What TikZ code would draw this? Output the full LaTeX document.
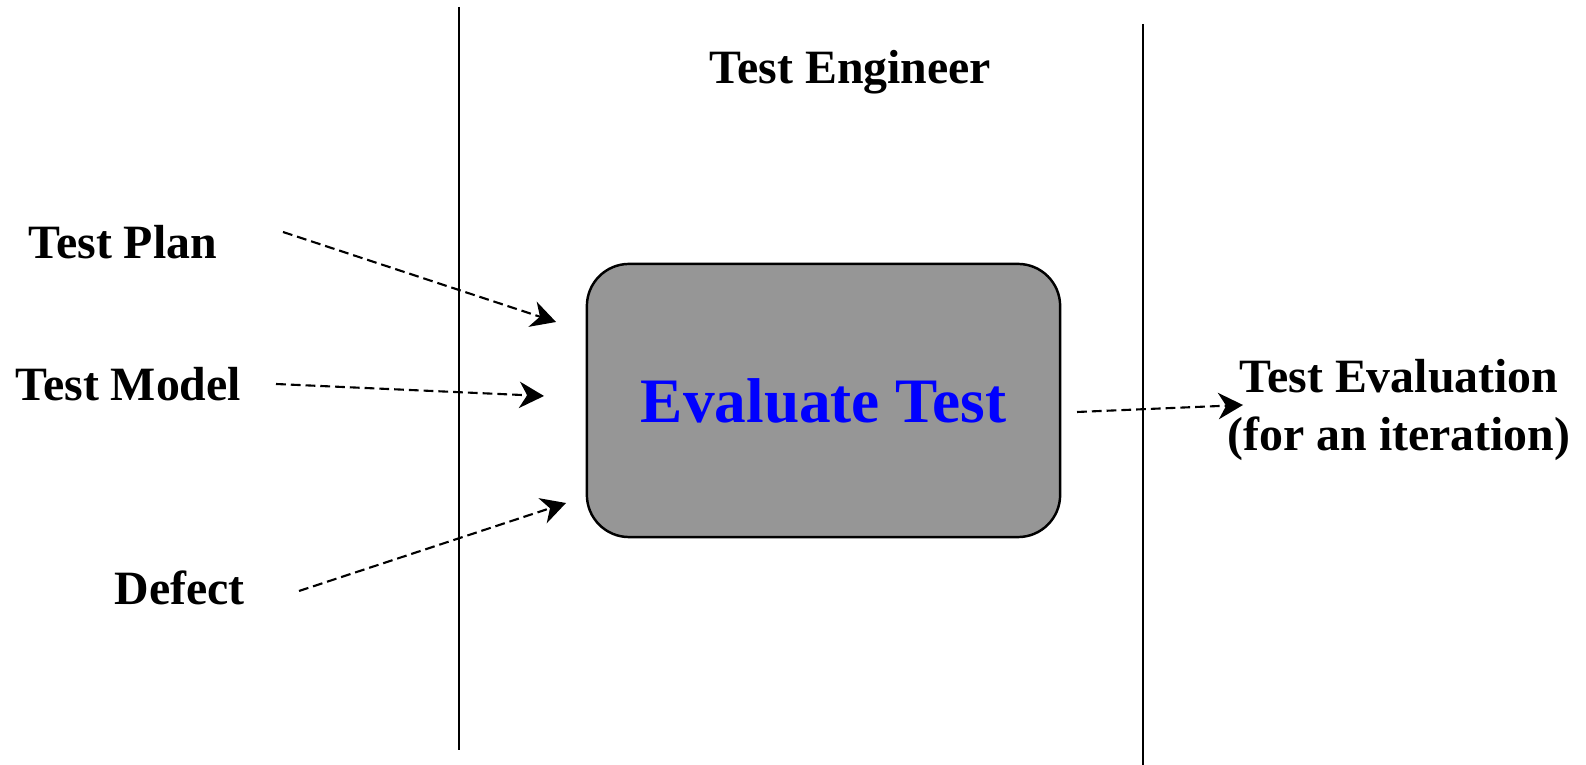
\documentclass[tikz,border=0pt]{standalone}
\usepackage{fontspec}
\setmainfont{Liberation Serif}
\usetikzlibrary{arrows.meta}
\definecolor{boxgray}{RGB}{150,150,150}
\definecolor{evalblue}{RGB}{0,0,255}
\tikzset{
  lbl/.style={font=\bfseries\fontsize{13.6}{16.5}\selectfont, inner sep=0pt},
  lane/.style={line width=0.75pt},
  flow/.style={line width=0.6pt, dash pattern=on 2.8pt off 1.4pt,
    -{Stealth[length=7pt, width=7.5pt, inset=2.2pt]}},
  activity/.style={draw, line width=0.7pt, fill=boxgray, rounded corners=12pt,
    minimum width=4.73cm, minimum height=2.73cm, inner sep=0pt,
    text=evalblue, font=\bfseries\fontsize{18}{21}\selectfont}
}
\begin{document}
\begin{tikzpicture}[x=0.01cm, y=-0.01cm]
\useasboundingbox (0,0) rectangle (1586,765);
% swimlane lines
\coordinate (l1t) at (459,7);
\coordinate (l1b) at (459,750);
\coordinate (l2t) at (1143,24);
\coordinate (l2b) at (1143,765);
\draw[lane] (l1t) -- (l1b);
\draw[lane] (l2t) -- (l2b);
% lane title
\node[lbl, anchor=base] (eng) at (850.5,84) {Test Engineer};
% activity
\node[activity] (act) at (823.5,400.5) {Evaluate Test};
% inputs
\node[lbl, anchor=base west] (plan) at (28,259) {Test Plan};
\node[lbl, anchor=base west] (model) at (15,401) {Test Model};
\node[lbl, anchor=base west] (defect) at (114,605) {Defect};
% output
\node[lbl, anchor=base, align=center] (out) at (1399,451) {Test Evaluation\\(for an iteration)};
% connector end points
\coordinate (planS) at (283,232);
\coordinate (planE) at (556,322);
\coordinate (modelS) at (276,384);
\coordinate (modelE) at (544,396);
\coordinate (defS) at (299,591);
\coordinate (defE) at (566,503);
\coordinate (outS) at (1077,412);
\coordinate (outE) at (1243,405);
\draw[flow] (planS) -- (planE);
\draw[flow] (modelS) -- (modelE);
\draw[flow] (defS) -- (defE);
\draw[flow] (outS) -- (outE);
\end{tikzpicture}
\end{document}
